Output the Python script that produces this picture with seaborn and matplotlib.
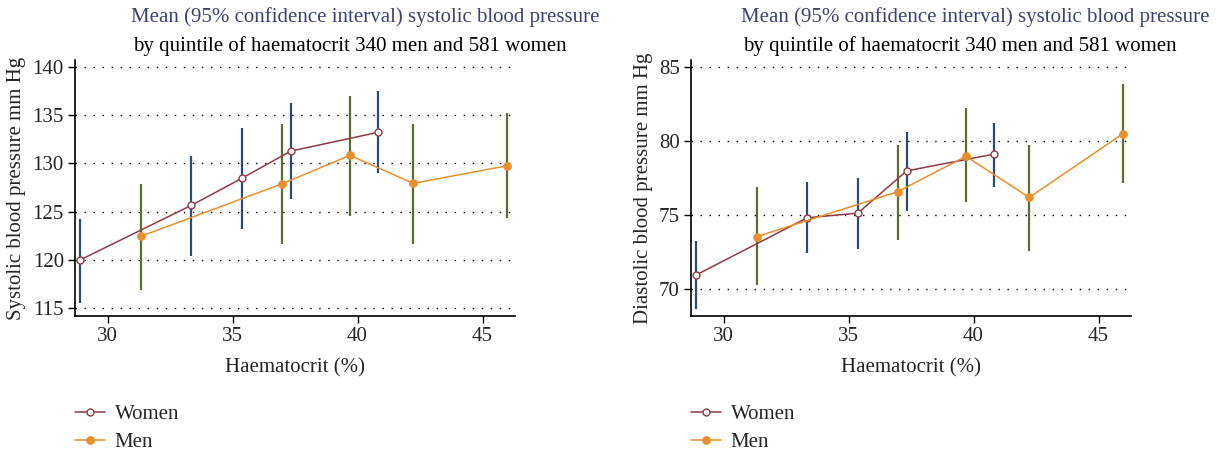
import numpy as np
import pandas as pd
import seaborn as sns
import matplotlib.pyplot as plt

# haematocrit quintile means
women_x = [28.9, 33.35, 35.37, 37.33, 40.8]
men_x = [31.32, 36.96, 39.7, 42.23, 45.98]

# systolic blood pressure, mean and 95% CI
women_sbp = [120.0, 125.65, 128.45, 131.27, 133.2]
women_sbp_lo = [115.55, 120.37, 123.24, 126.34, 128.96]
women_sbp_hi = [124.27, 130.8, 133.7, 136.2, 137.5]
men_sbp = [122.44, 127.86, 130.83, 127.93, 129.75]
men_sbp_lo = [116.93, 121.69, 124.6, 121.69, 124.3]
men_sbp_hi = [127.9, 134.03, 136.99, 134.03, 135.23]

# diastolic blood pressure, mean and 95% CI
women_dbp = [70.96, 74.82, 75.13, 77.98, 79.1]
women_dbp_lo = [68.65, 72.42, 72.71, 75.29, 76.86]
women_dbp_hi = [73.25, 77.22, 77.52, 80.6, 81.23]
men_dbp = [73.54, 76.57, 78.96, 76.19, 80.49]
men_dbp_lo = [70.27, 73.32, 75.85, 72.58, 77.13]
men_dbp_hi = [76.88, 79.7, 82.19, 79.7, 83.8]

title1 = "Mean (95% confidence interval) systolic blood pressure"
title2 = "by quintile of haematocrit 340 men and 581 women"

WOMEN_C = "#8f3b45"
MEN_C = "#e8902c"
WOMEN_CI = "#2c4c78"
MEN_CI = "#5b6e2f"
FS = 15

sns.set_style("white")
plt.rcParams["font.family"] = ["Liberation Serif", "DejaVu Serif"]
plt.rcParams["font.size"] = FS

fig = plt.figure(figsize=(12.27, 4.51), dpi=100)
W, H = 1227, 451


def add_panel(left_px, ylabel, w_mean, w_lo, w_hi, m_mean, m_lo, m_hi,
              yticks, ylim, title_cx, ylabelpad):
    ax = fig.add_axes([left_px / W, 1 - 316 / H, 440 / W, 256 / H])

    ax.vlines(women_x, w_lo, w_hi, color=WOMEN_CI, lw=1.6, zorder=2)
    ax.vlines(men_x, m_lo, m_hi, color=MEN_CI, lw=1.6, zorder=2)

    women = pd.DataFrame({"x": women_x, "y": w_mean})
    men = pd.DataFrame({"x": men_x, "y": m_mean})
    sns.lineplot(data=women, x="x", y="y", ax=ax, color=WOMEN_C, lw=1.1,
                 marker="o", markersize=5, markerfacecolor="white",
                 markeredgecolor=WOMEN_C, markeredgewidth=1.0,
                 label="Women", zorder=3)
    sns.lineplot(data=men, x="x", y="y", ax=ax, color=MEN_C, lw=1.1,
                 marker="o", markersize=5.5, markeredgecolor=MEN_C,
                 label="Men", zorder=3)

    ax.set_xlim(28.7, 46.3)
    ax.set_ylim(*ylim)
    ax.set_xticks([30, 35, 40, 45])
    ax.set_yticks(yticks)
    ax.grid(axis="y", color="black", linestyle=(0, (1, 5.5)), lw=1.0)
    ax.grid(axis="x", visible=False)
    for s in ["top", "right"]:
        ax.spines[s].set_visible(False)
    for s in ["left", "bottom"]:
        ax.spines[s].set_color("black")
        ax.spines[s].set_linewidth(1.2)
    ax.tick_params(axis="both", direction="out", length=5, width=1,
                   color="black", labelsize=FS, left=True, bottom=True,
                   pad=3)
    ax.set_xlabel("Haematocrit (%)", fontsize=FS, labelpad=9)
    ax.set_ylabel(ylabel, fontsize=FS, labelpad=ylabelpad)

    ax.legend(loc="upper left", bbox_to_anchor=(0.0, -0.347),
              frameon=False, fontsize=FS, handlelength=1.45,
              handletextpad=0.45, labelspacing=0.38, borderaxespad=0,
              borderpad=0)

    fig.text(title_cx / W, 1 - 17 / H, title1, ha="center", va="center",
             color="#3b4470", fontsize=FS)
    fig.text((title_cx - 15) / W, 1 - 46 / H, title2, ha="center",
             va="center", color="black", fontsize=FS)
    return ax


add_panel(75, "Systolic blood pressure mm Hg", women_sbp, women_sbp_lo,
          women_sbp_hi, men_sbp, men_sbp_lo, men_sbp_hi,
          [115, 120, 125, 130, 135, 140], (114.2, 140.7), 365, 5)
add_panel(691, "Diastolic blood pressure mm Hg", women_dbp, women_dbp_lo,
          women_dbp_hi, men_dbp, men_dbp_lo, men_dbp_hi,
          [70, 75, 80, 85], (68.2, 85.45), 975, 4)

fig.savefig("out.png", dpi=100)
